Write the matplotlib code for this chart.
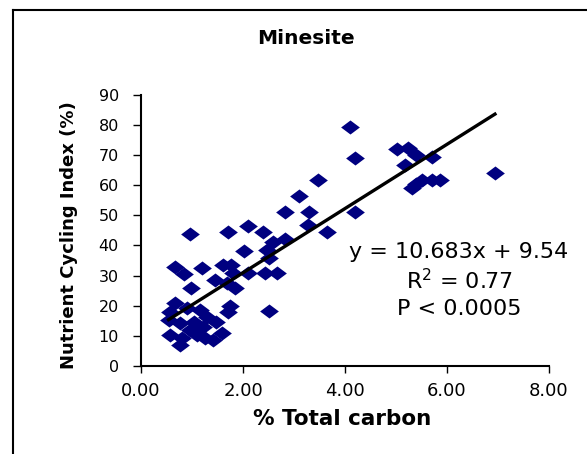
# Minesite: nutrient cycling index against total carbon

import numpy as np
import matplotlib
matplotlib.use('Agg')
import matplotlib.pyplot as plt
from matplotlib.path import Path
from matplotlib.lines import Line2D

# values
carbon = [4.10, 4.20, 4.20, 5.02, 5.24, 5.40, 5.70, 5.18, 5.31, 5.40, 5.50, 5.70, 5.86, 6.94,
          3.48, 3.10, 3.30, 3.28, 3.64, 2.82, 2.82, 2.59, 2.47, 2.50, 2.43, 2.66, 2.50, 2.40,
          2.10, 1.71, 2.01, 2.10, 1.84, 1.81, 1.68, 1.61, 1.76, 1.45, 1.19, 0.96, 0.67, 0.85,
          0.99, 1.75, 1.71,
          0.67, 0.57, 0.90, 1.16, 1.29, 0.54, 0.76, 1.03, 1.22, 1.48, 0.96, 0.57, 0.80, 0.77,
          1.09, 1.25, 1.58, 1.42]
nci = [79.5, 69.2, 51.2, 72.0, 72.5, 70.0, 69.3, 66.7, 59.0, 60.5, 61.7, 61.7, 61.7, 64.0,
       61.7, 56.4, 51.2, 46.8, 44.6, 51.2, 42.3, 41.0, 38.5, 35.7, 30.9, 30.9, 18.2, 44.6,
       46.4, 44.6, 38.2, 30.9, 25.7, 30.7, 27.4, 33.5, 33.5, 28.5, 32.6, 43.7, 32.9, 30.5,
       25.7, 20.0, 18.0,
       20.7, 18.0, 19.1, 18.5, 16.3, 15.2, 14.1, 14.6, 13.0, 14.6, 11.9, 10.2, 9.1, 6.9,
       10.2, 9.1, 10.8, 8.5]

slope = 10.683
intercept = 9.54
r2_text = r'R$^2$ = 0.77'
p_text = 'P < 0.0005'

xticks = [0, 2, 4, 6, 8]
xticklabels = ['0.00', '2.00', '4.00', '6.00', '8.00']
yticks = [0, 10, 20, 30, 40, 50, 60, 70, 80, 90]

navy = '#000080'

fig = plt.figure(figsize=(5.87, 4.54), dpi=100)
ax = fig.add_axes([0.2402, 0.1945, 0.6951, 0.596])

# wide diamond marker
diamond = Path([(-1, 0), (0, 0.75), (1, 0), (0, -0.75), (-1, 0)],
               [Path.MOVETO, Path.LINETO, Path.LINETO, Path.LINETO, Path.CLOSEPOLY])
ax.plot(carbon, nci, linestyle='none', marker=diamond, markersize=13.5,
        color=navy, markeredgewidth=0, clip_on=False)

xs = np.array([min(carbon), max(carbon)])
ax.plot(xs, slope * xs + intercept, color='black', linewidth=2.4)

ax.set_xlim(0, 8)
ax.set_ylim(0, 90)
ax.set_xticks(xticks)
ax.set_xticklabels(xticklabels)
ax.set_yticks(yticks)
ax.tick_params(axis='x', direction='out', length=5, width=1, pad=7, labelsize=13)
ax.tick_params(axis='y', direction='out', length=6, width=1, pad=10, labelsize=11.5)
for s in ['top', 'right']:
    ax.spines[s].set_visible(False)
for s in ['left', 'bottom']:
    ax.spines[s].set_linewidth(1.5)

ax.set_xlabel('% Total carbon', fontsize=15.5, fontweight='bold')
ax.xaxis.set_label_coords(0.492, -0.197)
ax.xaxis.label.set_va('center')

ax.set_ylabel('Nutrient Cycling Index (%)', fontsize=13, fontweight='bold')
ax.yaxis.set_label_coords(-0.176, 0.483)
ax.yaxis.label.set_va('center')

fig.text(306 / 587, 1 - 38 / 454, 'Minesite', fontsize=14.5, fontweight='bold',
         ha='center', va='center')

eq_text = 'y = %.3fx + %.2f' % (slope, intercept)
fig.text(459 / 587, 1 - 251.5 / 454, eq_text, fontsize=16, ha='center', va='center')
fig.text(459 / 587, 1 - 281 / 454, r2_text, fontsize=16, ha='center', va='center')
fig.text(459 / 587, 1 - 309 / 454, p_text, fontsize=16, ha='center', va='center')

# chart area border (cut off at right and bottom)
fig.add_artist(Line2D([13 / 587, 13 / 587], [0, 1 - 10 / 454], color='black',
                      linewidth=1.5, transform=fig.transFigure))
fig.add_artist(Line2D([13 / 587, 1], [1 - 10 / 454, 1 - 10 / 454], color='black',
                      linewidth=1.5, transform=fig.transFigure))

fig.savefig('out.png', dpi=100)
